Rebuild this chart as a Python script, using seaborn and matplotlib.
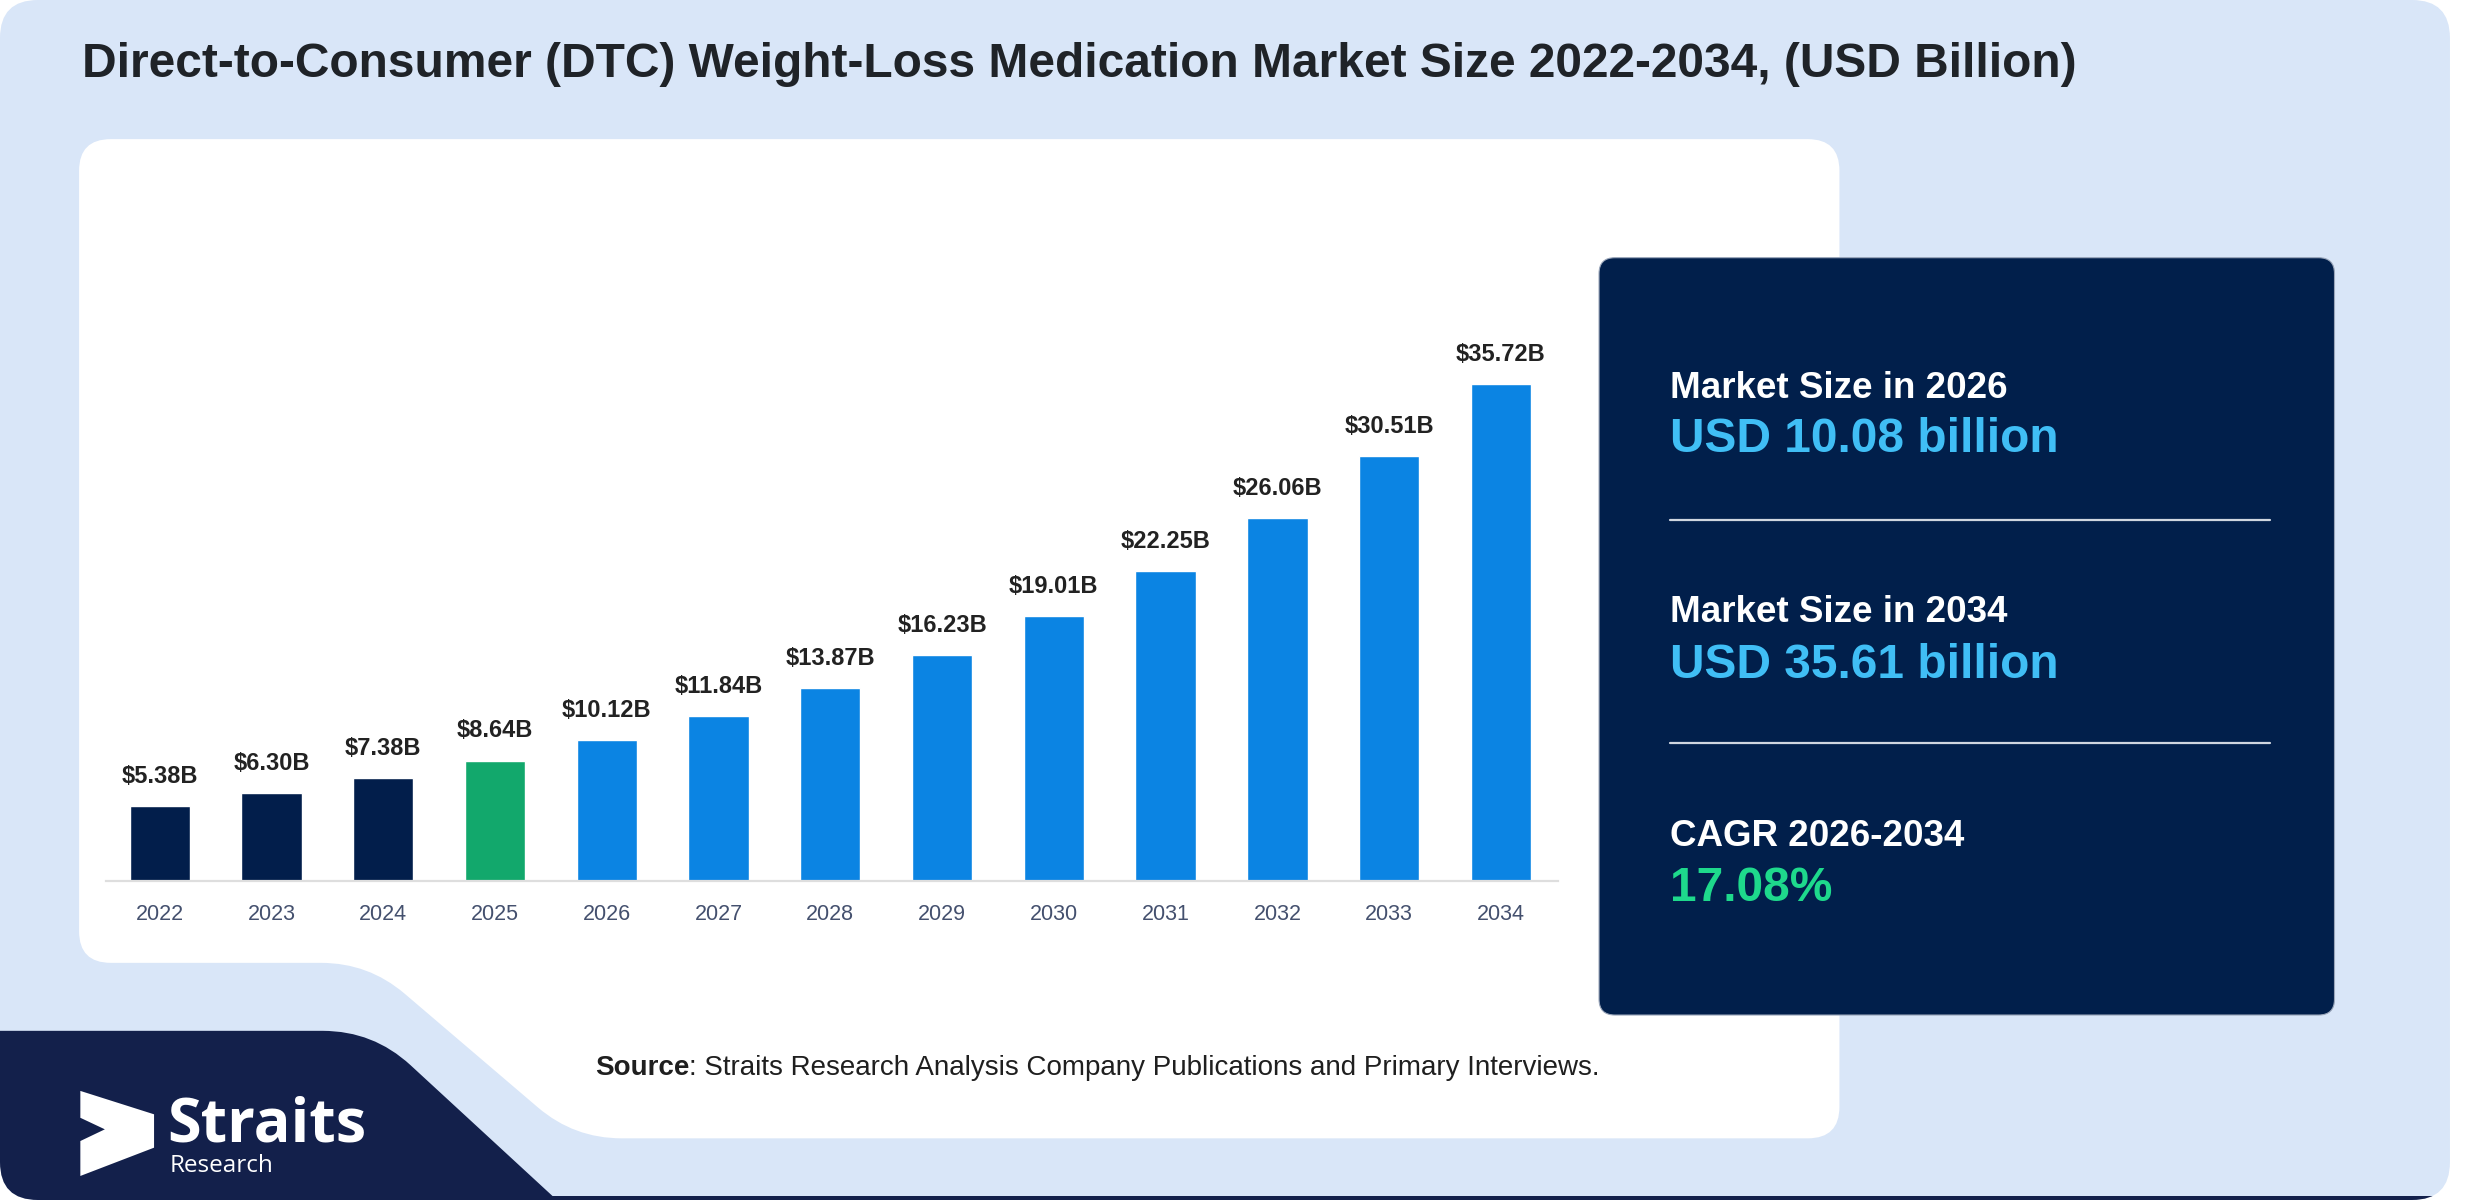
import numpy as np
import matplotlib
matplotlib.use("Agg")
import matplotlib.pyplot as plt
from matplotlib.path import Path
from matplotlib.patches import PathPatch, FancyBboxPatch, Polygon
import seaborn as sns

# data
years = ['2022', '2023', '2024', '2025', '2026', '2027', '2028',
         '2029', '2030', '2031', '2032', '2033', '2034']
values = [5.38, 6.30, 7.38, 8.64, 10.12, 11.84, 13.87,
          16.23, 19.01, 22.25, 26.06, 30.51, 35.72]
stat_titles = ['Market Size in 2026', 'Market Size in 2034', 'CAGR 2026-2034']
stat_values = ['USD 10.08 billion', 'USD 35.61 billion', '17.08%']

title = "Direct-to-Consumer (DTC) Weight-Loss Medication Market Size 2022-2034, (USD Billion)"
source_rest = ": Straits Research Analysis Company Publications and Primary Interviews."

NAVY = "#021e4b"
GREEN = "#12a86c"
BLUE = "#0b84e3"
bar_colors = [NAVY] * 3 + [GREEN] + [BLUE] * 9

sns.set_style("white")
plt.rcParams['font.family'] = ['Liberation Sans', 'DejaVu Sans']


def rounded_poly(pts, radii):
    # closed polygon with quadratic-rounded corners
    verts, codes = [], []
    n = len(pts)
    for i in range(n):
        p0 = np.array(pts[i - 1], float)
        p1 = np.array(pts[i], float)
        p2 = np.array(pts[(i + 1) % n], float)
        r = radii[i]
        a = p1 + (p0 - p1) / np.linalg.norm(p0 - p1) * r
        b = p1 + (p2 - p1) / np.linalg.norm(p2 - p1) * r
        verts.append(a)
        codes.append(Path.MOVETO if i == 0 else Path.LINETO)
        verts += [p1, b]
        codes += [Path.CURVE3, Path.CURVE3]
    verts.append(verts[0])
    codes.append(Path.CLOSEPOLY)
    return Path(verts, codes)


fig = plt.figure(figsize=(24.8, 12), dpi=100, facecolor="white")

# background layer, coordinates in a 1568 x 759 frame
bg = fig.add_axes([0, 0, 1, 1], zorder=0)
bg.set_xlim(0, 1568)
bg.set_ylim(759, 0)
bg.axis("off")

outer = PathPatch(rounded_poly([(0, 0), (1549, 0), (1549, 759), (0, 759)], [24, 24, 24, 24]),
                  fc="#d9e6f8", ec="none")
bg.add_patch(outer)

logo_bg = PathPatch(rounded_poly([(-20, 652), (236, 652), (364, 770), (-20, 770)], [1, 32, 1, 1]),
                    fc="#13204b", ec="none")
bg.add_patch(logo_bg)
logo_bg.set_clip_path(outer)
strip = bg.add_patch(plt.Rectangle((300, 756.5), 1260, 4, fc="#13204b", ec="none"))
strip.set_clip_path(outer)

card = PathPatch(rounded_poly([(50, 88), (1163, 88), (1163, 720), (363, 720), (233, 609), (50, 609)],
                              [20, 20, 20, 30, 30, 20]), fc="white", ec="none")
bg.add_patch(card)

panel = FancyBboxPatch((1011, 163), 465, 479, boxstyle="round,pad=0,rounding_size=10",
                       fc="#011f4b", ec="#9aa6ba", lw=0.8)
bg.add_patch(panel)

bg.text(52, 49, title, fontsize=34.5, fontweight="bold", color="#1f2328", va="baseline", ha="left")

# stats panel
title_base = [252, 393.6, 535.4]
value_base = [286, 428.6, 570]
value_colors = ["#40bef5", "#40bef5", "#1ed98c"]
for t, v, yb, yv, c in zip(stat_titles, stat_values, title_base, value_base, value_colors):
    bg.text(1056, yb, t, fontsize=26.5, fontweight="bold", color="white", va="baseline")
    bg.text(1056, yv, v, fontsize=34.5, fontweight="bold", color=c, va="baseline")
for yl in [328.8, 470]:
    bg.plot([1056, 1435], [yl, yl], color="#d0d6e0", lw=1.6)

# source line
s1 = bg.text(376, 680, "Source", fontsize=20, fontweight="bold", color="#1f1f1f", va="baseline")
bg.annotate(source_rest, xy=(1, 0), xycoords=s1, fontsize=20, color="#1f1f1f",
            ha="left", va="bottom")

# logo
bg.add_patch(Polygon([(50.8, 690), (97.4, 704.8), (97.4, 725.9), (50.8, 743.8),
                      (50.8, 721.7), (66.3, 714.3), (50.8, 707)], closed=True,
                     fc="white", ec="none"))
bg.text(106, 722, "Straits", fontsize=44, fontweight="bold", color="white",
        va="baseline", family=["Open Sans", "DejaVu Sans"])
bg.text(107, 741.5, "Research", fontsize=17.5, color="white",
        va="baseline", family=["Open Sans", "DejaVu Sans"])

# bar chart
ax = fig.add_axes([67 / 1568, 1 - 557 / 759, 918 / 1568, 357 / 759], zorder=2)
ax.set_facecolor("none")
sns.barplot(x=years, y=values, hue=years, palette=bar_colors, legend=False,
            width=0.54, saturation=1, ax=ax)
for c in ax.containers:
    ax.bar_label(c, fmt="${:.2f}B", padding=13, fontsize=17, fontweight="bold", color="#222222")
ax.set_xlim(-0.481, 12.51)
ax.set_ylim(0, 40.6)
ax.set_yticks([])
ax.set_xlabel("")
ax.set_ylabel("")
for side in ["top", "right", "left"]:
    ax.spines[side].set_visible(False)
ax.spines["bottom"].set_color("#dedede")
ax.spines["bottom"].set_linewidth(1.6)
ax.tick_params(axis="x", length=0, pad=17, labelsize=15.5, labelcolor="#44506e")

fig.savefig("out.png", dpi=100, facecolor="white")
